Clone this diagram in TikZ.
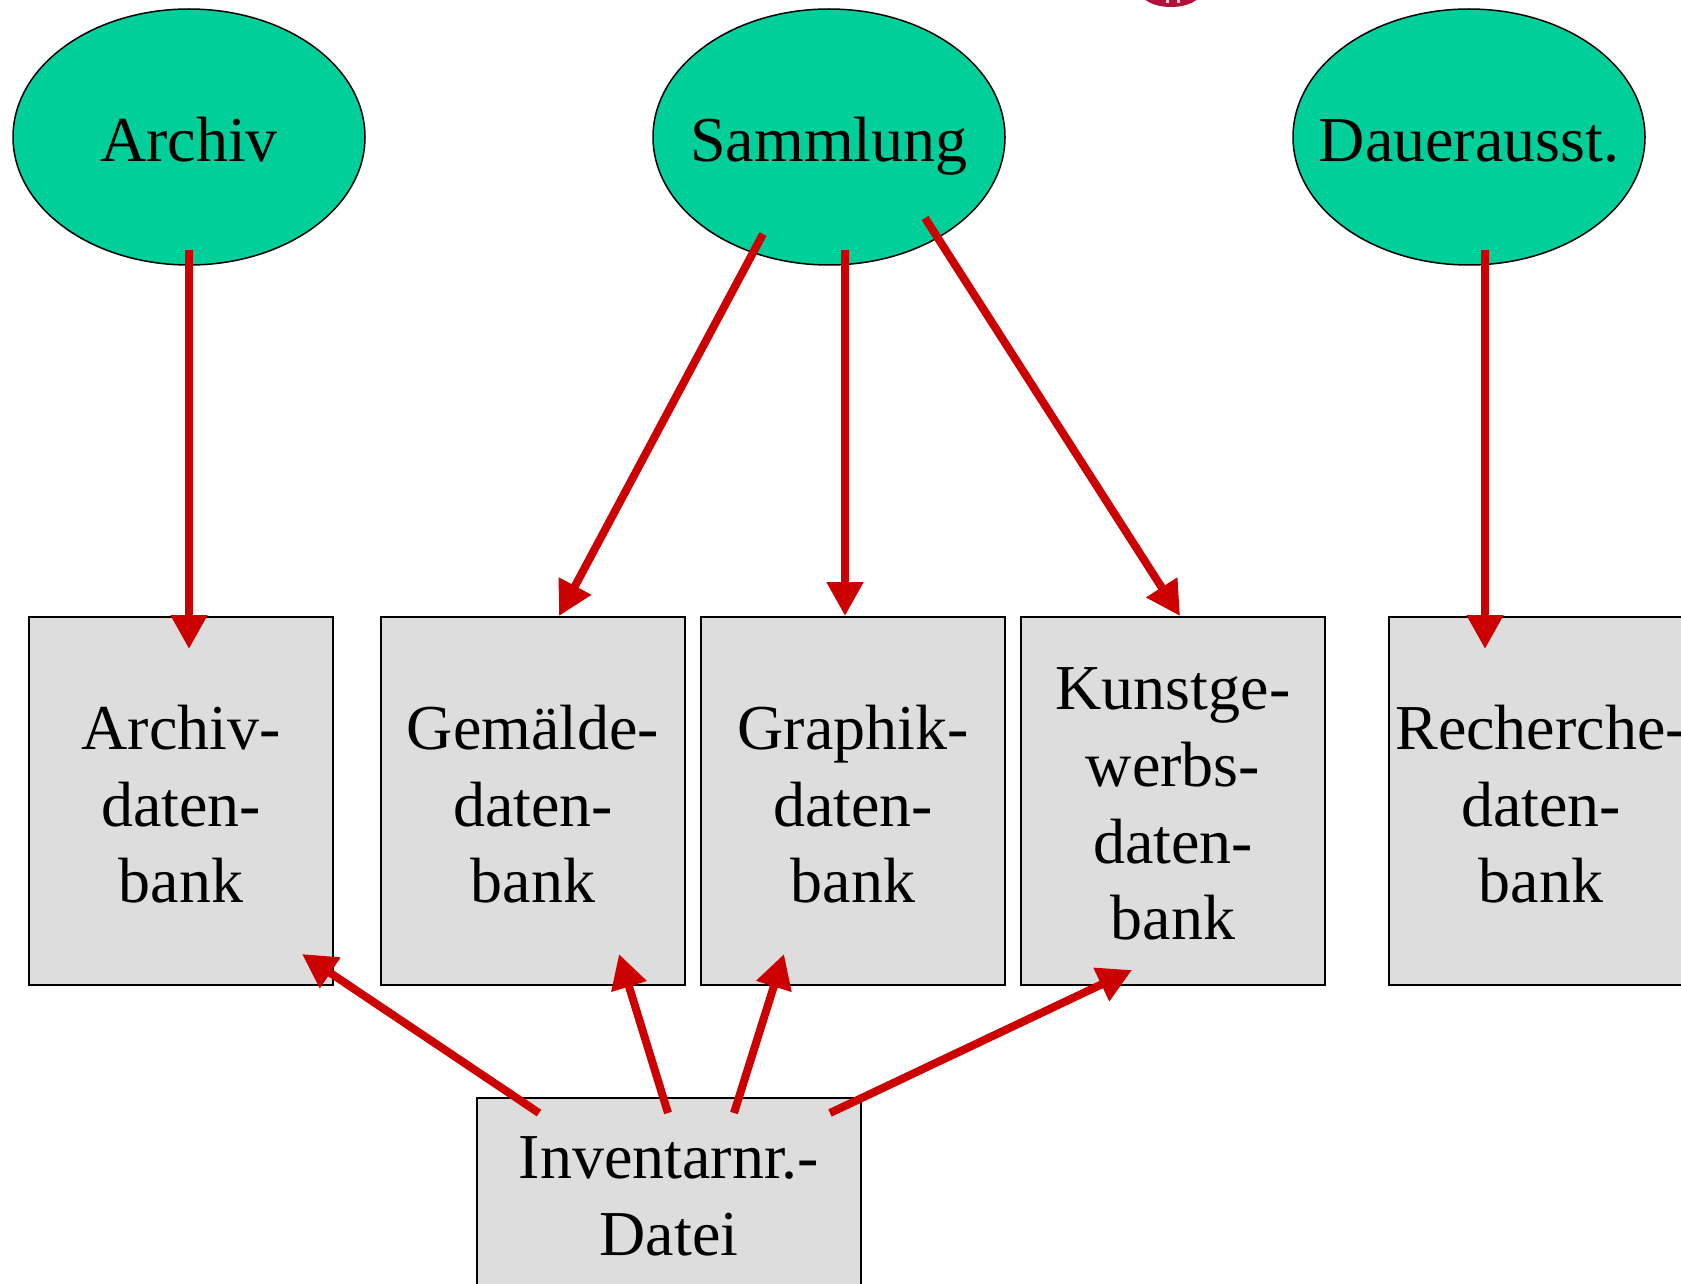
\documentclass[tikz,border=0pt]{standalone}
\usepackage{fontspec}
\setmainfont{Liberation Serif}
\usetikzlibrary{arrows.meta,shapes.geometric}
\definecolor{oval}{HTML}{00CF9A}
\definecolor{boxfill}{HTML}{DDDDDD}
\definecolor{linkred}{HTML}{CC0000}
\definecolor{logored}{HTML}{B0103A}
\tikzset{
  x=1pt,y=-1pt,
  label text/.style={font=\fontsize{64}{76.7}\selectfont,align=center,text=black,inner sep=0pt},
  topic text/.style={label text,text height=44pt,text depth=0pt,yshift=-3pt},
  box text/.style={label text,yshift=-3.2pt},
  file text/.style={label text,yshift=3.8pt},
  topic/.style={ellipse,draw=black,line width=1.5pt,fill=oval,inner sep=0pt,minimum width=352pt,minimum height=256pt},
  dbbox/.style={rectangle,draw=black,line width=1.5pt,fill=boxfill,minimum width=304pt,minimum height=368pt},
  filebox/.style={rectangle,draw=black,line width=1.5pt,fill=boxfill,minimum width=384pt,minimum height=204pt},
  link/.style={draw=linkred,line width=8pt,-{Triangle[length=34pt,width=35pt,fill=linkred]}}
}
\begin{document}
\begin{tikzpicture}
\useasboundingbox (0,0) rectangle (1681,1284);
% partly visible logo at the top edge
\fill[logored] (1171,-8) ellipse [x radius=30pt,y radius=15pt];
\fill[white!75!logored] (1166,0) rectangle (1169,3);
\fill[white!75!logored] (1177,0) rectangle (1180,3);
% topics
\node[topic,label={[topic text]center:Archiv}] (archiv) at (189,137) {};
\node[topic,label={[topic text]center:Sammlung}] (samm) at (829,137) {};
\node[topic,label={[topic text]center:Dauerausst.}] (dauer) at (1469,137) {};
% databases
\node[dbbox,label={[box text]center:{Archiv-\\daten-\\bank}}] (adb) at (181,801) {};
\node[dbbox,label={[box text]center:{Gemälde-\\daten-\\bank}}] (gdb) at (533,801) {};
\node[dbbox,label={[box text]center:{Graphik-\\daten-\\bank}}] (pdb) at (853,801) {};
\node[dbbox,label={[box text]center:{Kunstge-\\werbs-\\daten-\\bank}}] (kdb) at (1173,801) {};
\node[dbbox,label={[box text]center:{Recherche-\\daten-\\bank}}] (rdb) at (1541,801) {};
% inventory file
\node[filebox,label={[file text]center:{Inventarnr.-\\Datei}}] (inv) at (669,1200) {};
% connectors
\draw[link] ([yshift=-113pt]archiv.center) -- ([xshift=8pt,yshift=152pt]adb.center);
\draw[link] ([xshift=-66pt,yshift=-97pt]samm.center) -- ([xshift=26pt,yshift=185pt]gdb.center);
\draw[link] ([xshift=16pt,yshift=-113pt]samm.center) -- ([xshift=-8pt,yshift=185pt]pdb.center);
\draw[link] ([xshift=96pt,yshift=-81pt]samm.center) -- ([xshift=7pt,yshift=185pt]kdb.center);
\draw[link] ([xshift=16pt,yshift=-113pt]dauer.center) -- ([xshift=-56pt,yshift=152pt]rdb.center);
\draw[link] ([xshift=-130pt,yshift=87pt]inv.center) -- ([xshift=121pt,yshift=-153pt]adb.center);
\draw[link] ([xshift=-1pt,yshift=87pt]inv.center) -- ([xshift=86pt,yshift=-153pt]gdb.center);
\draw[link] ([xshift=65pt,yshift=87pt]inv.center) -- ([xshift=-69pt,yshift=-153pt]pdb.center);
\draw[link] ([xshift=161pt,yshift=87pt]inv.center) -- ([xshift=-41pt,yshift=-169pt]kdb.center);
\end{tikzpicture}
\end{document}
